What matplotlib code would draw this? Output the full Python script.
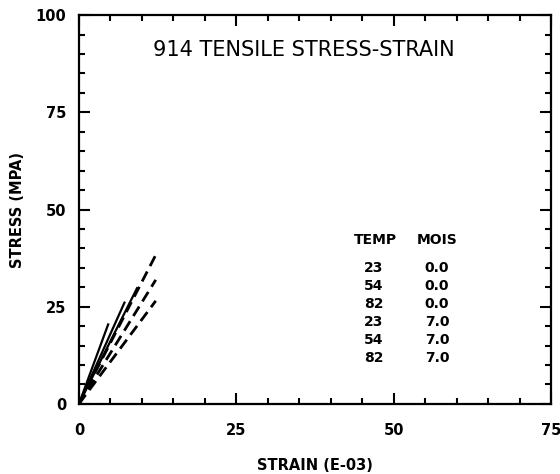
import matplotlib
matplotlib.use("Agg")
import matplotlib.pyplot as plt
from matplotlib.ticker import MultipleLocator

# end points of each stress-strain curve (all start at the origin)
temps = ["23", "54", "82", "23", "54", "82"]
moisture = ["0.0", "0.0", "0.0", "7.0", "7.0", "7.0"]
strain_end = [4.7, 7.3, 9.3, 12.2, 12.2, 12.2]
stress_end = [20.7, 26.3, 30.0, 38.3, 31.9, 26.5]

fig = plt.figure(figsize=(5.6, 4.74), dpi=100)
ax = fig.add_axes([0.141, 0.148, 0.843, 0.820])

for t, m, xe, ye in zip(temps, moisture, strain_end, stress_end):
    if m == "0.0":
        ax.plot([0, xe], [0, ye], color="black", lw=1.6, solid_capstyle="butt")
    else:
        ax.plot([0, xe], [0, ye], color="black", lw=2.0, dashes=(4, 2.2))

ax.set_xlim(0, 75)
ax.set_ylim(0, 100)
ax.xaxis.set_major_locator(MultipleLocator(25))
ax.xaxis.set_minor_locator(MultipleLocator(5))
ax.yaxis.set_major_locator(MultipleLocator(25))
ax.yaxis.set_minor_locator(MultipleLocator(5))
ax.tick_params(which="both", direction="in", top=True, right=True, width=1.5)
ax.tick_params(which="major", length=8, labelsize=10.5)
ax.tick_params(axis="x", which="major", pad=14)
ax.tick_params(axis="y", which="major", pad=9)
ax.tick_params(which="minor", length=4)
for lab in ax.get_xticklabels() + ax.get_yticklabels():
    lab.set_fontweight("bold")
for sp in ax.spines.values():
    sp.set_linewidth(1.6)

ax.set_xlabel("STRAIN (E-03)", fontsize=10.5, fontweight="bold", labelpad=14)
ax.set_ylabel("STRESS (MPA)", fontsize=10.5, fontweight="bold", labelpad=8)

ax.text(35.8, 91, "914 TENSILE STRESS-STRAIN", fontsize=15,
        ha="center", va="center")

# temperature / moisture key
ax.text(47.1, 42.2, "TEMP", fontsize=10, fontweight="bold", ha="center", va="center")
ax.text(56.9, 42.2, "MOIS", fontsize=10, fontweight="bold", ha="center", va="center")
for i, (t, m) in enumerate(zip(temps, moisture)):
    yy = 35.0 - i * 4.63
    ax.text(46.8, yy, t, fontsize=10, fontweight="bold", ha="center", va="center")
    ax.text(56.9, yy, m, fontsize=10, fontweight="bold", ha="center", va="center")

fig.savefig("out.png", dpi=100)
